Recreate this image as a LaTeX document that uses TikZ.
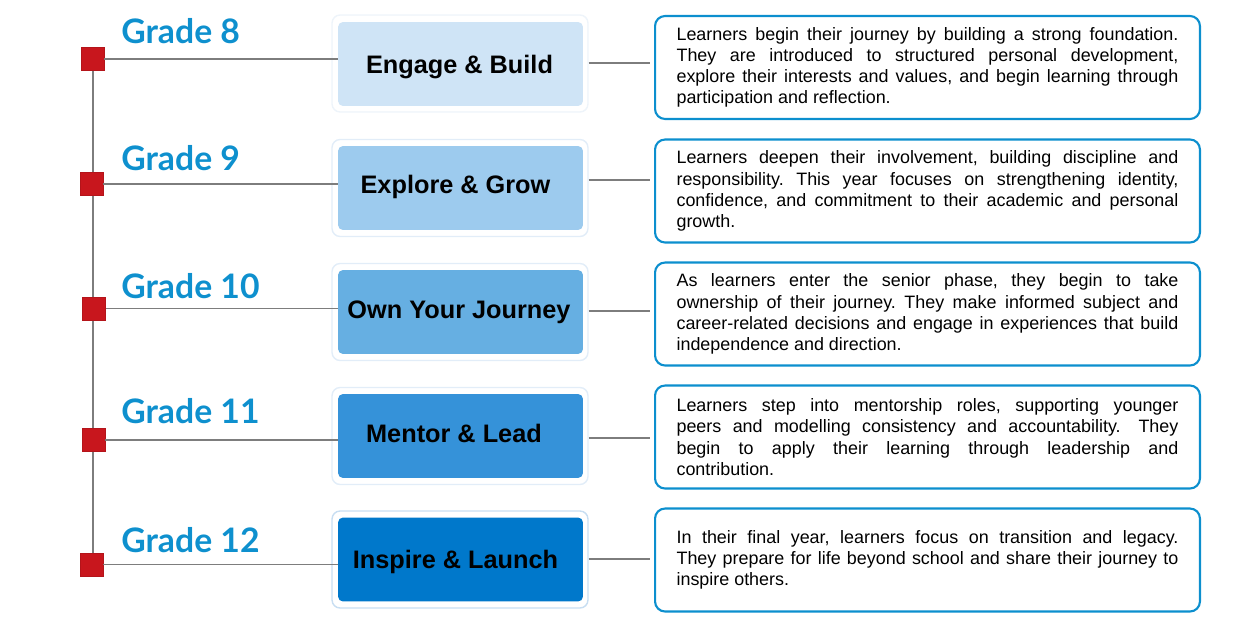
\documentclass[tikz,border=0pt]{standalone}
\usepackage{fontspec}
\setmainfont{Liberation Sans}
\newfontfamily\latofont{Lato}
\definecolor{gblue}{RGB}{14,144,206}
\definecolor{dblue}{RGB}{12,143,206}
\definecolor{sqred}{RGB}{200,22,29}
\definecolor{lgray}{RGB}{125,125,125}
\definecolor{bA}{RGB}{207,228,246}
\definecolor{bB}{RGB}{157,203,238}
\definecolor{bC}{RGB}{102,175,226}
\definecolor{bD}{RGB}{53,146,217}
\definecolor{bE}{RGB}{0,120,203}
\definecolor{frA}{RGB}{238,244,250}
\definecolor{frB}{RGB}{226,237,248}
\definecolor{frE}{RGB}{200,222,242}
\tikzset{
  sq/.style={fill=sqred, draw=sqred!90!black, line width=0.3pt, minimum size=0.46cm, inner sep=0pt},
  conn/.style={draw=lgray, line width=1.1pt},
  grade/.style={anchor=base west, inner sep=0pt, text=gblue, font=\latofont\bfseries\fontsize{19.2}{22}\selectfont},
  frame/.style={draw=#1, fill=white, line width=0.8pt, rounded corners=0.16cm, minimum width=5.12cm, minimum height=1.94cm, inner sep=0pt},
  stagebox/.style={fill=#1, rounded corners=0.1cm, minimum width=4.9cm, minimum height=1.68cm, inner sep=0pt},
  stagetext/.style={anchor=base, inner sep=0pt, font=\bfseries\fontsize{14.4}{16}\selectfont},
  desc/.style={draw=dblue, line width=1.2pt, rounded corners=0.2cm, minimum width=10.9cm, minimum height=2.06cm, inner xsep=0.43cm, inner ysep=0pt,
    text width=10.04cm, align=justify, font=\fontsize{10.2}{12.07}\selectfont\frenchspacing},
}
\begin{document}
\begin{tikzpicture}[x=0.02cm, y=-0.02cm]
\useasboundingbox (0,0) rectangle (1250,625);
% vertical timeline
\coordinate (vt) at (93,59);
\coordinate (vb) at (93,565);
\draw[conn] (vt) -- (vb);
% frames and boxes
\node[frame=frA] (f1) at (460,63.5) {};
\node[frame=frB] (f2) at (460,188) {};
\node[frame=frB] (f3) at (460,312) {};
\node[frame=frB] (f4) at (460,436) {};
\node[frame=frE] (f5) at (460,559.5) {};
\node[stagebox=bA] (b1) at (460.5,64) {};
\node[stagebox=bB] (b2) at (460.5,188) {};
\node[stagebox=bC] (b3) at (460.5,312) {};
\node[stagebox=bD] (b4) at (460.5,436) {};
\node[stagebox=bE] (b5) at (460.5,559.5) {};
\node[stagetext] (t1) at (459.5,73) {Engage \& Build};
\node[stagetext] (t2) at (455.5,193) {Explore \& Grow};
\node[stagetext] (t3) at (459,318) {Own Your Journey};
\node[stagetext] (t4) at (454,442) {Mentor \& Lead};
\node[stagetext] (t5) at (455.5,568) {Inspire \& Launch};
% squares
\node[sq] (s1) at (92.5,59) {};
\node[sq] (s2) at (91.5,184) {};
\node[sq] (s3) at (94,308.5) {};
\node[sq] (s4) at (93.5,440) {};
\node[sq] (s5) at (91.5,564.5) {};
% grade labels
\node[grade] (g1) at (121,43.5) {Grade 8};
\node[grade] (g2) at (121,170) {Grade 9};
\node[grade] (g3) at (121,298) {Grade 10};
\node[grade] (g4) at (121,423.5) {Grade 11};
\node[grade] (g5) at (121,552) {Grade 12};
% description boxes
\node[desc] (d1) at (927.5,67.5) {Learners begin their journey by building a strong foundation.\linebreak They are introduced to structured personal development,\linebreak explore their interests and values, and begin learning through\linebreak participation and reflection.};
\node[desc] (d2) at (927.5,191) {Learners deepen their involvement, building discipline and\linebreak responsibility. This year focuses on strengthening identity,\linebreak confidence, and commitment to their academic and personal\linebreak growth.};
\node[desc] (d3) at (927.5,314) {As learners enter the senior phase, they begin to take\linebreak ownership of their journey. They make informed subject and\linebreak career-related decisions and engage in experiences that build\linebreak independence and direction.};
\node[desc] (d4) at (927.5,437) {Learners step into mentorship roles, supporting younger\linebreak peers and modelling consistency and accountability.\quad They\linebreak begin to apply their learning through leadership and\linebreak contribution.};
\node[desc] (d5) at (927.5,560) {In their final year, learners focus on transition and legacy.\linebreak They prepare for life beyond school and share their journey to\linebreak inspire others.};
% left connectors
\draw[conn] (s1.east) -- (s1.east -| b1.west);
\draw[conn] (s2.east) -- (s2.east -| b2.west);
\draw[conn] (s3.east) -- (s3.east -| b3.west);
\draw[conn] (s4.east) -- (s4.east -| b4.west);
\draw[conn] (s5.east) -- (s5.east -| b5.west);
% right connectors
\coordinate (r1) at (650,63);
\coordinate (r2) at (650,180);
\coordinate (r3) at (650,311);
\coordinate (r4) at (650,438);
\coordinate (r5) at (650,559);
\draw[conn] (f1.east |- r1) -- (r1);
\draw[conn] (f2.east |- r2) -- (r2);
\draw[conn] (f3.east |- r3) -- (r3);
\draw[conn] (f4.east |- r4) -- (r4);
\draw[conn] (f5.east |- r5) -- (r5);
\end{tikzpicture}
\end{document}
